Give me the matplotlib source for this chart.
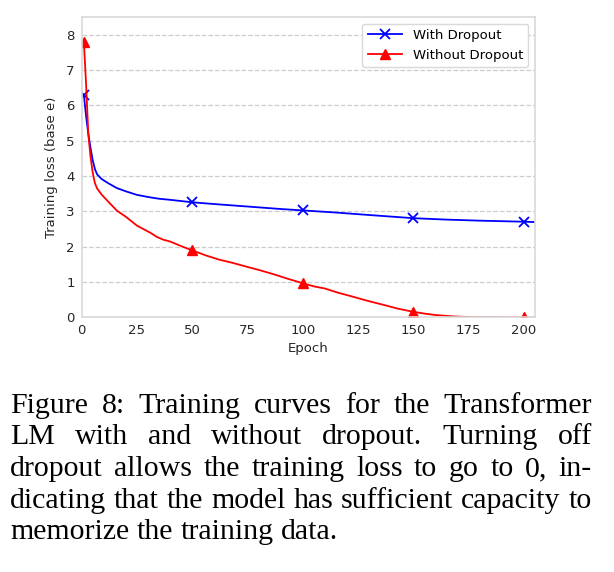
import matplotlib
matplotlib.use('Agg')
import matplotlib.pyplot as plt

# Training loss
EPOCHS_DROPOUT = [1, 2, 3, 4, 5, 6, 7, 9, 12, 16, 20, 25, 30, 35, 40, 50, 60, 75, 90,
                  100, 115, 130, 150, 165, 180, 200, 205]
LOSS_DROPOUT = [6.30, 5.70, 5.20, 4.80, 4.45, 4.20, 4.05, 3.92, 3.80, 3.66, 3.57, 3.47,
                3.41, 3.36, 3.33, 3.26, 3.21, 3.14, 3.07, 3.03, 2.97, 2.90, 2.81,
                2.77, 2.74, 2.71, 2.70]

EPOCHS_NO_DROPOUT = [1, 2, 3, 4, 5, 6, 7, 9, 12, 16, 20, 25, 28, 31, 34, 37, 40, 45, 50,
                     56, 62, 68, 75, 81, 87, 93, 100, 105, 110, 116, 122, 130, 137,
                     143, 150, 155, 160, 168, 176, 185, 200, 205]
LOSS_NO_DROPOUT = [7.80, 6.60, 5.20, 4.55, 4.10, 3.80, 3.65, 3.48, 3.28, 3.02, 2.85,
                   2.60, 2.50, 2.40, 2.28, 2.20, 2.15, 2.02, 1.90, 1.76, 1.64, 1.55,
                   1.43, 1.33, 1.22, 1.10, 0.97, 0.88, 0.82, 0.70, 0.60, 0.46, 0.35,
                   0.25, 0.16, 0.11, 0.07, 0.03, 0.01, 0.005, 0.0, 0.0]

MARKER_EPOCHS = [1, 50, 100, 150, 200]

CAPTION_LINES = [
    'Figure 8:  Training curves for the Transformer',
    'LM with and without dropout.  Turning off',
    'dropout allows the training loss to go to 0, in-',
    'dicating that the model has sufficient capacity to',
    'memorize the training data.',
]

fig = plt.figure(figsize=(6.14, 5.72), dpi=100)
ax = fig.add_axes([0.133, 0.445, 0.738, 0.525])

mark_d = [EPOCHS_DROPOUT.index(e) for e in MARKER_EPOCHS]
mark_n = [EPOCHS_NO_DROPOUT.index(e) for e in MARKER_EPOCHS]
ax.plot(EPOCHS_DROPOUT, LOSS_DROPOUT, color='blue', marker='x', markevery=mark_d,
        markersize=7, markeredgewidth=1.3, linewidth=1.3, label='With Dropout')
ax.plot(EPOCHS_NO_DROPOUT, LOSS_NO_DROPOUT, color='red', marker='^', markevery=mark_n,
        markersize=7, linewidth=1.3, label='Without Dropout')

ax.set_xlim(0, 205)
ax.set_ylim(0, 8.5)
ax.set_xticks(range(0, 201, 25))
ax.set_yticks(range(0, 9))
ax.grid(axis='y', linestyle='--', color='#cccccc', linewidth=0.9)
ax.set_axisbelow(True)
for s in ax.spines.values():
    s.set_color('#d9d9d9')
    s.set_linewidth(1.2)
ax.tick_params(length=0, labelsize=9.5, colors='#262626', pad=5)
ax.set_xlabel('Epoch', fontsize=9.5, color='#262626', labelpad=3)
ax.set_ylabel('Training loss (base e)', fontsize=9.5, color='#262626', labelpad=6)
leg = ax.legend(loc='upper right', fontsize=9.5, frameon=True, framealpha=1,
                edgecolor='#d9d9d9', borderpad=0.4, handlelength=2.6,
                borderaxespad=0.5)

# justified caption in a Times-like font
renderer = fig.canvas.get_renderer()
left, right = 10 / 614, 592 / 614
y0, dy = 1 - 413 / 572, 31.5 / 572
for i, line in enumerate(CAPTION_LINES):
    y = y0 - i * dy
    words = line.replace('  ', ' ').split(' ')
    texts = [fig.text(0, y, w, fontsize=21.5, family='Liberation Serif',
                      va='baseline', ha='left') for w in words]
    widths = [t.get_window_extent(renderer).width / fig.bbox.width for t in texts]
    if i < len(CAPTION_LINES) - 1:
        gap = (right - left - sum(widths)) / (len(words) - 1)
    else:
        gap = 0.25 * 21.5 / 72 * 100 / fig.bbox.width
    x = left
    for t, w in zip(texts, widths):
        t.set_x(x)
        x += w + gap

fig.savefig('out.png', dpi=100)
